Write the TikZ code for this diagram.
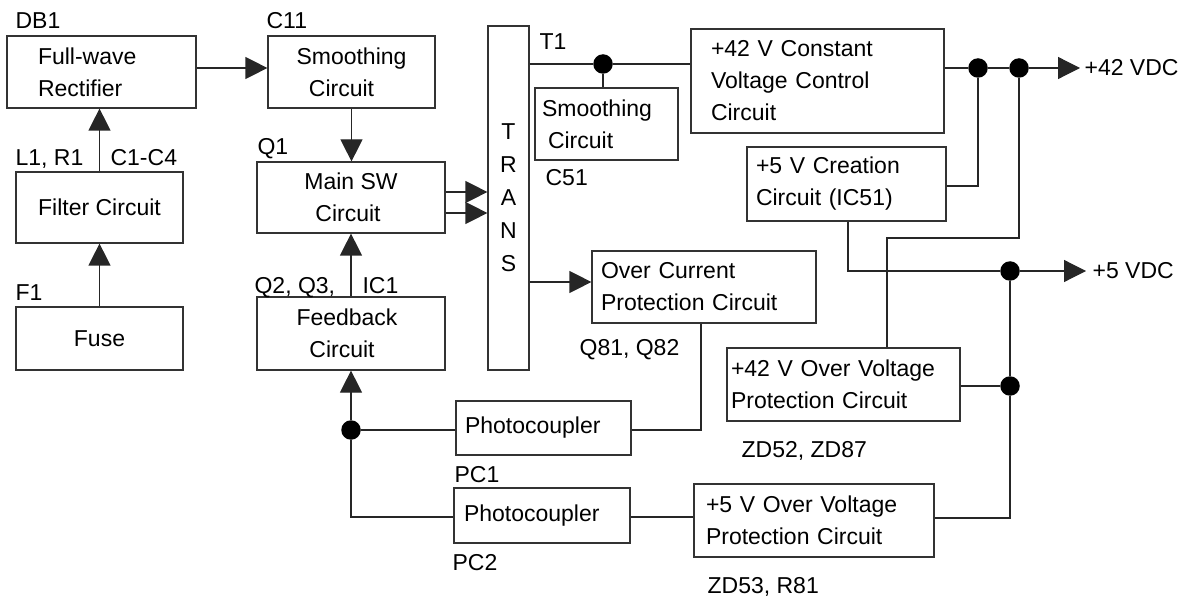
\documentclass[tikz,border=0pt]{standalone}
\usepackage{fontspec}
\setmainfont{Liberation Sans}
\usetikzlibrary{arrows.meta}
\begin{document}
\begin{tikzpicture}[x=1pt,y=-1pt,
  font=\fontsize{23}{32}\selectfont,
  line width=1.2pt,
  wire/.style={draw=black!85},
  box/.style={draw=black!80,rectangle,inner ysep=0pt},
  cbox/.style={box,align=center,inner xsep=0pt},
  lbox/.style={box,align=left},
  lbl/.style={anchor=base west,inner sep=0pt},
  dot/.style={circle,fill=black,draw=none,inner sep=0pt,minimum size=19.5pt},
  arr/.style={wire,-{Triangle[length=22pt,width=22pt]}}]
\useasboundingbox (0,0) rectangle (1181,596);

% boxes
\node[lbox,inner xsep=31pt,text width=127pt,minimum height=72pt] (rect) at (101.5,72) {Full-wave\\Rectifier};
\node[cbox,minimum width=167pt,minimum height=72pt] (smootha) at (351.5,72) {Smoothing\\Circuit\hspace*{20pt}};
\node[cbox,minimum width=167pt,minimum height=71pt] (filter) at (99.5,207.5) {Filter Circuit};
\node[cbox,minimum width=167pt,minimum height=63pt] (fuse) at (99.5,338.5) {Fuse};
\node[cbox,minimum width=188pt,minimum height=71pt] (mainsw) at (351,197.5) {Main SW\\Circuit\hspace*{6pt}};
\node[cbox,minimum width=188pt,minimum height=73pt] (feedback) at (351,333.5) {Feedback\hspace*{8pt}\\Circuit\hspace*{18pt}};
\node[cbox,minimum width=41pt,minimum height=344pt,font=\fontsize{23}{33}\selectfont] (trans) at (508.5,198) {T\\R\\A\\N\\S};
\node[lbox,inner xsep=7pt,text width=129pt,minimum height=72pt] (smoothb) at (606.5,124) {Smoothing\\\hspace*{6pt}Circuit};
\node[lbox,inner xsep=20pt,text width=213pt,minimum height=104pt] (cvc) at (817.5,81) {+42 V Constant\\Voltage Control\\Circuit};
\node[lbox,inner xsep=9pt,text width=181pt,minimum height=74pt] (creation) at (846.5,184) {+5 V Creation\\Circuit (IC51)};
\node[lbox,inner xsep=9pt,text width=206pt,minimum height=72pt] (oc) at (704,287) {Over Current\\Protection Circuit};
\node[lbox,inner xsep=4pt,text width=225pt,minimum height=73pt] (ovpa) at (843.5,384.5) {+42 V Over Voltage\\Protection Circuit};
\node[lbox,inner xsep=12pt,text width=216pt,minimum height=73pt] (ovpb) at (814,520.5) {+5 V Over Voltage\\Protection Circuit};
\node[lbox,inner xsep=9pt,text width=157pt,minimum height=54pt] (pca) at (543.5,428) {Photocoupler};
\node[lbox,inner xsep=10pt,text width=156pt,minimum height=55pt] (pcb) at (542,515.5) {Photocoupler};

% labels
\node[lbl] (ldb1) at (15,29) {DB1};
\node[lbl] (lc11) at (266,29) {C11};
\node[lbl] (ll1) at (15,166) {L1, R1};
\node[lbl] (lc1) at (110,166) {C1-C4};
\node[lbl] (lq1) at (257,155) {Q1};
\node[lbl] (lf1) at (15,300) {F1};
\node[lbl] (lq2) at (254,294) {Q2, Q3,};
\node[lbl] (lic1) at (362,294) {IC1};
\node[lbl] (lt1) at (539,50) {T1};
\node[lbl] (lc51) at (545,186) {C51};
\node[lbl] (lq81) at (579,355) {Q81, Q82};
\node[lbl] (lpc1) at (454,482) {PC1};
\node[lbl] (lpc2) at (452,570) {PC2};
\node[lbl] (lzd52) at (741,457) {ZD52, ZD87};
\node[lbl] (lzd53) at (707,593) {ZD53, R81};
\node[anchor=west,inner xsep=4pt,inner ysep=0pt] (v42) at (1080,68) {+42 VDC};
\node[anchor=west,inner xsep=6pt,inner ysep=0pt] (v5) at (1086,271) {+5 VDC};

% dots
\node[dot] (d1) at (603,64) {};
\node[dot] (d2) at (978,68) {};
\node[dot] (d3) at (1019,68) {};
\node[dot] (d4) at (1010,271) {};
\node[dot] (d5) at (1010,386) {};
\node[dot] (d6) at (351,430) {};
\coordinate (k1) at (887,238);

% connectors
\draw[arr] ([yshift=4pt]rect.east) -- ([yshift=4pt]smootha.west);
\draw[arr] (filter.north) -- (filter.north |- rect.south);
\draw[arr] (fuse.north) -- (filter.south);
\draw[arr] (smootha.south) -- (smootha.south |- mainsw.north);
\draw[arr] (feedback.north) -- (mainsw.south);
\draw[arr] ([yshift=5.5pt]mainsw.east) -- ([yshift=5.5pt]mainsw.east -| trans.west);
\draw[arr] ([yshift=-15.5pt]mainsw.east) -- ([yshift=-15.5pt]mainsw.east -| trans.west);
\draw[wire] (trans.east |- d1) -- (d1) -- (cvc.west |- d1);
\draw[wire] (d1) -- (d1 |- smoothb.north);
\draw[wire] (cvc.east |- d2) -- (d2) -- (d3);
\draw[arr] (d3) -- (v42.west);
\draw[wire] ([yshift=-2pt]creation.east) -| (d2);
\draw[wire] (d3) |- (k1) -- (k1 |- ovpa.north);
\draw[wire] ([xshift=1.5pt]creation.south) |- (d4);
\draw[arr] (d4) -- (v5.west);
\draw[wire] (d4) -- (d5) |- ([yshift=2.5pt]ovpb.east);
\draw[wire] (ovpa.east |- d5) -- (d5);
\draw[arr] ([yshift=5pt]oc.west -| trans.east) -- ([yshift=5pt]oc.west);
\draw[wire] ([xshift=-3pt]oc.south) |- ([yshift=-2pt]pca.east);
\draw[wire] ([yshift=-2pt]pca.west) -- (d6);
\draw[arr] (d6) -- (feedback.south);
\draw[wire] (d6) |- ([yshift=-1.5pt]pcb.west);
\draw[wire] ([yshift=-1.5pt]pcb.east) -- ([yshift=-1.5pt]pcb.east -| ovpb.west);
\end{tikzpicture}
\end{document}
